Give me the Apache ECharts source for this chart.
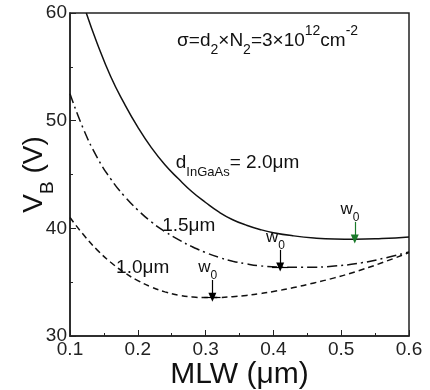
<!DOCTYPE html>
<html>
<head>
<meta charset="utf-8">
<script src="https://cdn.jsdelivr.net/npm/echarts@6/dist/echarts.min.js"></script>
<style>html,body{margin:0;padding:0;background:#fff}#c{width:430px;height:390px}</style>
</head>
<body>
<div id="c"></div>
<script>
// MLW (µm) and V_B (V) for each InGaAs thickness
const mlw20 = [0.124,0.14,0.16,0.18,0.20,0.22,0.24,0.26,0.28,0.30,0.32,0.34,0.36,0.38,0.40,0.43,0.46,0.49,0.52,0.56,0.60];
const vb20  = [60,57.2,54.1,51.6,49.4,47.5,45.9,44.6,43.4,42.4,41.5,40.8,40.3,39.9,39.6,39.3,39.1,39.0,38.98,39.05,39.2];
const mlw15 = [0.10,0.12,0.14,0.16,0.18,0.20,0.22,0.24,0.26,0.28,0.30,0.32,0.34,0.36,0.38,0.41,0.45,0.49,0.53,0.565,0.60];
const vb15  = [52.5,49.2,46.6,44.6,43.0,41.7,40.6,39.7,38.95,38.3,37.75,37.3,36.95,36.7,36.52,36.4,36.38,36.5,36.8,37.25,37.8];
const mlw10 = [0.10,0.12,0.14,0.16,0.18,0.20,0.22,0.24,0.26,0.28,0.30,0.32,0.34,0.36,0.38,0.40,0.43,0.46,0.49,0.52,0.56,0.60];
const vb10  = [41.0,39.4,38.0,36.85,35.9,35.15,34.55,34.1,33.8,33.63,33.57,33.58,33.65,33.77,33.93,34.13,34.5,34.93,35.4,35.95,36.8,37.75];
// optimum widths w0 and their V_B
const w0Mlw = [0.52, 0.41, 0.31];
const w0Vb  = [39.0, 36.4, 33.6];
const xTicks = [0.1,0.2,0.3,0.4,0.5,0.6];
const yTicks = [30,40,50,60];

const FONT = 'Liberation Sans, Arial, sans-serif';
const zip = (a,b)=>a.map((v,i)=>[v,b[i]]);

const arrowColors = ['#1a7a2a','#000','#000'];
const arrowLen = 1.6; // in V
const arrowLines = w0Mlw.map((x,i)=>[
  {coord:[x, w0Vb[i]+arrowLen], symbol:'none', lineStyle:{color:arrowColors[i], type:'solid', width:1.2}},
  {coord:[x, w0Vb[i]], symbol:'triangle', symbolSize:[8,9], symbolRotate:180}
]);
const w0Labels = w0Mlw.map((x,i)=>({
  coord:[x-0.007, w0Vb[i]+arrowLen+1.2],
  symbol:'circle', symbolSize:0,
  label:{show:true, formatter:'{a|w}{b|0}', position:'inside',
    rich:{a:{fontSize:17,fontFamily:FONT,color:'#111'},b:{fontSize:12,fontFamily:FONT,color:'#111',verticalAlign:'bottom',padding:[0,0,-6,0]}}}
}));
const ticks = w0Mlw.slice(1).map((x,i)=>[
  {coord:[x-0.012, w0Vb[i+1]]},{coord:[x+0.012, w0Vb[i+1]]}
]);

const txt = (coord, fmt, rich)=>({coord, symbol:'circle', symbolSize:0,
  label:{show:true, position:'right', distance:0, formatter:fmt, rich, color:'#111', fontFamily:FONT}});

const chart = echarts.init(document.getElementById('c'), null, {renderer:'canvas'});
chart.setOption({
  animation:false,
  backgroundColor:'#fff',
  grid:{left:70, right:21, top:13, bottom:54, containLabel:false, outerBoundsMode:'none',
    show:true, borderColor:'#222', borderWidth:1.5},
  xAxis:{type:'value', min:0.1, max:0.6, interval:0.1,
    name:'MLW (\u03bcm)', nameLocation:'middle', nameGap:24, nameMoveOverlap:false,
    nameTextStyle:{fontSize:30, fontFamily:FONT, color:'#111'},
    axisLine:{lineStyle:{color:'#222', width:1.5}},
    axisTick:{inside:true, length:6, lineStyle:{color:'#222'}},
    minorTick:{show:true, splitNumber:2, length:3, lineStyle:{color:'#222'}},
    splitLine:{show:false},
    axisLabel:{fontSize:19, fontFamily:FONT, color:'#222', margin:4,
      formatter:v=>xTicks.some(t=>Math.abs(t-v)<1e-9)?v.toFixed(1):''}},
  yAxis:{type:'value', min:30, max:60, interval:10,
    name:'{a|V}{b|B}{a| (V)}', nameLocation:'middle', nameGap:22, nameRotate:90, nameMoveOverlap:false,
    nameTextStyle:{rich:{a:{fontSize:28,fontFamily:FONT,color:'#111'},b:{fontSize:19,fontFamily:FONT,color:'#111',verticalAlign:'bottom',padding:[0,0,-9,0]}}},
    axisLine:{lineStyle:{color:'#222', width:1.5}},
    axisTick:{inside:true, length:6, lineStyle:{color:'#222'}},
    minorTick:{show:true, splitNumber:2, length:3, lineStyle:{color:'#222'}},
    splitLine:{show:false},
    axisLabel:{fontSize:19, fontFamily:FONT, color:'#222', margin:3,
      formatter:v=>yTicks.includes(v)?String(v):''}},
  series:[
    {type:'line', data:zip(mlw20,vb20), smooth:0.5, symbol:'none',
     lineStyle:{color:'#111', width:1.5},
     markPoint:{silent:true, data:[
       txt([0.256,46.1], '{a|d}{b|InGaAs}{a|= 2.0\u03bcm}',
         {a:{fontSize:19,fontFamily:FONT,color:'#111'},b:{fontSize:13,fontFamily:FONT,color:'#111',verticalAlign:'bottom',padding:[0,0,-7,0]}}),
       txt([0.258,57.4], '{a|\u03c3=d}{b|2}{a|\u00d7N}{b|2}{a|=3\u00d710}{c|12}{a|cm}{c|-2}',
         {a:{fontSize:19,fontFamily:FONT,color:'#111'},b:{fontSize:14,fontFamily:FONT,color:'#111',verticalAlign:'bottom',padding:[0,0,-7,0]},c:{fontSize:14,fontFamily:FONT,color:'#111',verticalAlign:'top',padding:[-7,0,0,0]}})
     ]}},
    {type:'line', data:zip(mlw15,vb15), smooth:0.5, symbol:'none',
     lineStyle:{color:'#111', width:1.5, type:[10,4,2,4]},
     markPoint:{silent:true, data:[
       txt([0.236,40.2], '{a|1.5\u03bcm}', {a:{fontSize:19,fontFamily:FONT,color:'#111'}})
     ]}},
    {type:'line', data:zip(mlw10,vb10), smooth:0.5, symbol:'none',
     lineStyle:{color:'#111', width:1.5, type:[6,4]},
     markPoint:{silent:true, data:[
       txt([0.168,36.3], '{a|1.0\u03bcm}', {a:{fontSize:19,fontFamily:FONT,color:'#111'}})
     ]}},
    {type:'line', data:[], symbol:'none',
     markLine:{silent:true, symbol:['none','none'], label:{show:false},
       lineStyle:{color:'#000', type:'solid', width:1.2},
       data: arrowLines.concat(ticks)},
     markPoint:{silent:true, data:w0Labels}}
  ]
});
</script>
</body>
</html>
